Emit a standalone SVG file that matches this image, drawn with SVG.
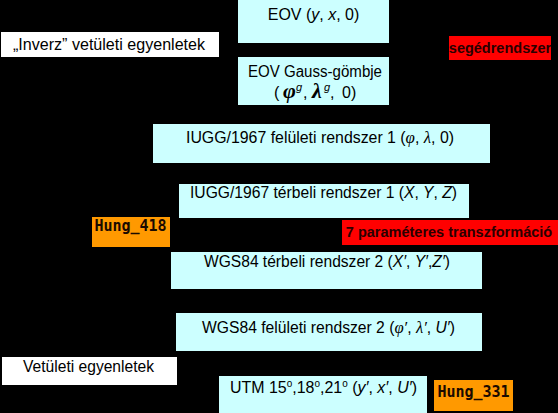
<svg xmlns="http://www.w3.org/2000/svg" width="558" height="413" viewBox="0 0 558 413">
<style>
.bg{fill:#000}
.cy{fill:#CCFFFF}
.wh{fill:#FFFFFF}
.or{fill:#FF9900}
.rd{fill:#FF0000}
.t{font-family:"Liberation Sans","DejaVu Sans",sans-serif;font-size:16px;fill:#000}
.b{font-family:"Liberation Sans","DejaVu Sans",sans-serif;font-weight:bold;font-size:14.5px;fill:#2a0000}
.m{font-family:"DejaVu Sans Mono","Liberation Mono",monospace;font-weight:bold;font-size:15px;fill:#1a0a00}
.i{font-style:italic}
.g{font-family:"Liberation Serif","DejaVu Serif",serif;font-style:italic;font-size:17px}
.gb{font-family:"Liberation Serif","DejaVu Serif",serif;font-style:italic;font-weight:bold;font-size:22px}
</style>
<rect class="bg" x="0" y="0" width="558" height="413"/>
<g id="connectors"/>
<g id="eov">
<rect class="cy" x="238" y="0" width="151" height="43"/>
<text class="t" x="313.5" y="20" text-anchor="middle">EOV (<tspan class="i">y</tspan>, <tspan class="i">x</tspan>, 0)</text>
</g>
<g id="gauss">
<rect class="cy" x="238" y="57" width="151" height="48"/>
<text class="t" x="315" y="77" text-anchor="middle" textLength="134" lengthAdjust="spacingAndGlyphs">EOV Gauss-gömbje</text>
<text class="t" y="98"><tspan x="274">(</tspan><tspan class="gb" x="283">φ</tspan><tspan class="i" x="296" dy="-7" font-size="11">g</tspan><tspan x="303" dy="7">,</tspan><tspan class="gb" x="312">λ</tspan><tspan class="i" x="324" dy="-7" font-size="11">g</tspan><tspan x="330" dy="7">,</tspan><tspan x="342">0)</tspan></text>
</g>
<g id="seged">
<rect class="rd" x="449" y="36" width="102" height="24"/>
<text class="b" x="500" y="53" text-anchor="middle">segédrendszer</text>
</g>
<g id="inverz">
<rect class="wh" x="1" y="32" width="218" height="25"/>
<text class="t" x="109" y="50" text-anchor="middle" textLength="192" lengthAdjust="spacingAndGlyphs">„Inverz” vetületi egyenletek</text>
</g>
<g id="iugg-fel">
<rect class="cy" x="153" y="124" width="337" height="39"/>
<text class="t" x="320" y="143" text-anchor="middle" textLength="268" lengthAdjust="spacingAndGlyphs">IUGG/1967 felületi rendszer 1 (<tspan class="g">φ</tspan>, <tspan class="g">λ</tspan>, 0)</text>
</g>
<g id="iugg-ter">
<rect class="cy" x="179" y="184" width="290" height="34"/>
<text class="t" x="323.5" y="198" text-anchor="middle" textLength="267" lengthAdjust="spacingAndGlyphs">IUGG/1967 térbeli rendszer 1 (<tspan class="i">X</tspan>, <tspan class="i">Y</tspan>, <tspan class="i">Z</tspan>)</text>
</g>
<g id="hung418">
<rect class="or" x="92" y="217" width="78" height="30"/>
<text class="m" x="130.5" y="231" text-anchor="middle">Hung_418</text>
</g>
<g id="param7">
<rect class="rd" x="342" y="220" width="216" height="25"/>
<text class="b" x="449" y="237" text-anchor="middle" font-size="15">7 paraméteres transzformáció</text>
</g>
<g id="wgs-ter">
<rect class="cy" x="171" y="252" width="311" height="37"/>
<text class="t" x="327" y="267" text-anchor="middle" textLength="246" lengthAdjust="spacingAndGlyphs">WGS84 térbeli rendszer 2 (<tspan class="i">X′</tspan>, <tspan class="i">Y′</tspan>,<tspan class="i">Z′</tspan>)</text>
</g>
<g id="wgs-fel">
<rect class="cy" x="176" y="313" width="306" height="38"/>
<text class="t" x="328.5" y="333" text-anchor="middle" textLength="253" lengthAdjust="spacingAndGlyphs">WGS84 felületi rendszer 2 (<tspan class="g">φ′</tspan>, <tspan class="g">λ′</tspan>, <tspan class="i">U′</tspan>)</text>
</g>
<g id="vetuleti">
<rect class="wh" x="2" y="357" width="175" height="28"/>
<text class="t" x="88.5" y="372" text-anchor="middle" textLength="131" lengthAdjust="spacingAndGlyphs">Vetületi egyenletek</text>
</g>
<g id="utm">
<rect class="cy" x="219" y="376" width="208" height="37"/>
<text class="t" x="230" y="393" textLength="187" lengthAdjust="spacingAndGlyphs">UTM 15<tspan dy="-6" font-size="10">o</tspan><tspan dy="6">,18</tspan><tspan dy="-6" font-size="10">o</tspan><tspan dy="6">,21</tspan><tspan dy="-6" font-size="10">o</tspan><tspan dy="6"> (</tspan><tspan class="i">y′</tspan>, <tspan class="i">x′</tspan>, <tspan class="i">U′</tspan>)</text>
</g>
<g id="hung331">
<rect class="or" x="434" y="380" width="79" height="31"/>
<text class="m" x="473.5" y="397" text-anchor="middle">Hung_331</text>
</g>
</svg>
